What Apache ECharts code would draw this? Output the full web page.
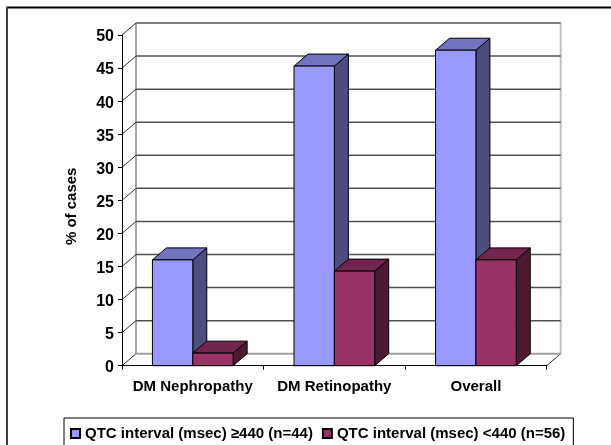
<!DOCTYPE html>
<html><head><meta charset="utf-8">
<style>html,body{margin:0;padding:0;background:#fff}#c{width:611px;height:445px}</style>
<script src="https://cdn.jsdelivr.net/npm/echarts@6/dist/echarts.min.js"></script>
</head><body><div id="c"></div>
<script>
var categories = ['DM Nephropathy', 'DM Retinopathy', 'Overall'];
var seriesA = [16, 45.3, 47.7];
var seriesB = [1.9, 14.3, 16];
var nameA = 'QTC interval (msec) \u2265440 (n=44)';
var nameB = 'QTC interval (msec) <440 (n=56)';
var yTicks = [0, 5, 10, 15, 20, 25, 30, 35, 40, 45, 50];
var FONT = '"Liberation Sans", Arial, sans-serif';
var DX = 14, DY = 12, BAR = 0.285;

function wall(params, api) {
  var v = api.value(0), cs = params.coordSys;
  var y = api.coord([0, v])[1], l = cs.x, r = cs.x + cs.width;
  var kids = [];
  if (v > 0) {
    kids.push({type: 'polyline', shape: {points: [[l, y], [l + DX, y - DY]]}, style: {fill: null, stroke: '#333', lineWidth: 1}});
  } else {
    kids.push({type: 'polyline', shape: {points: [[l, y], [l + DX, y - DY]]}, style: {fill: null, stroke: '#333', lineWidth: 1}});
    kids.push({type: 'polyline', shape: {points: [[r, y], [r + DX, y - DY]]}, style: {fill: null, stroke: '#333', lineWidth: 1}});
    kids.push({type: 'line', shape: {x1: l + DX, y1: y - DY, x2: l + DX, y2: cs.y - DY}, style: {stroke: '#a6a6a6', lineWidth: 2}});
    kids.push({type: 'line', shape: {x1: r + DX, y1: y - DY, x2: r + DX, y2: cs.y - DY}, style: {stroke: '#c0c0c0', lineWidth: 2}});
  }
  kids.push({type: 'line', shape: {x1: l + DX, y1: y - DY, x2: r + DX, y2: y - DY},
    style: {stroke: v === 50 ? '#808080' : (v === 0 ? '#a0a0a0' : '#505050'), lineWidth: v === 50 || v === 0 ? 2 : 1.5}});
  return {type: 'group', children: kids};
}

function bar3d(side, front, top, dark) {
  return function (params, api) {
    var cat = api.value(0), p = api.coord([cat, api.value(1)]), b = api.coord([cat, 0]);
    var w = api.size([1, 0])[0] * BAR;
    var x0 = side === 0 ? p[0] - w : p[0], x1 = x0 + w, yt = p[1], yb = b[1];
    var edge = {stroke: '#000', lineWidth: 1, lineJoin: 'round'};
    return {type: 'group', children: [
      {type: 'polygon', shape: {points: [[x1, yt], [x1 + DX, yt - DY], [x1 + DX, yb - DY], [x1, yb]]}, style: Object.assign({fill: dark}, edge)},
      {type: 'polygon', shape: {points: [[x0, yt], [x0 + DX, yt - DY], [x1 + DX, yt - DY], [x1, yt]]}, style: Object.assign({fill: top}, edge)},
      {type: 'rect', shape: {x: x0, y: yt, width: w, height: yb - yt}, style: Object.assign({fill: front}, edge)}
    ]};
  };
}

var chart = echarts.init(document.getElementById('c'), null, {renderer: 'canvas'});
chart.setOption({
  animation: false,
  backgroundColor: '#fff',
  textStyle: {fontFamily: FONT},
  grid: {left: 122, right: 64.3, top: 35, bottom: 79.3},
  xAxis: {
    type: 'category', data: categories,
    axisLine: {lineStyle: {color: '#000', width: 1}},
    axisTick: {show: true, length: 4, lineStyle: {color: '#000'}},
    axisLabel: {color: '#000', fontWeight: 'bold', fontSize: 15, margin: 14, fontFamily: FONT, interval: 0},
    z: 5
  },
  yAxis: {
    type: 'value', min: 0, max: 50, interval: 5,
    axisLine: {show: true, lineStyle: {color: '#000', width: 1}},
    axisTick: {show: true, length: 4, lineStyle: {color: '#000'}},
    axisLabel: {color: '#000', fontWeight: 'bold', fontSize: 16, margin: 8, fontFamily: FONT, verticalAlign: 'top', lineHeight: 4},
    splitLine: {show: false},
    name: '% of cases', nameLocation: 'middle', nameGap: 43, nameRotate: 90,
    nameTextStyle: {color: '#000', fontWeight: 'bold', fontSize: 15, fontFamily: FONT, padding: [0, 12, 0, 0]},
    z: 5
  },
  legend: {
    left: 64, top: 418, data: [nameA, nameB],
    backgroundColor: '#fff', borderColor: '#000', borderWidth: 1,
    padding: [8, 8, 10, 6], itemWidth: 9, itemHeight: 9, itemGap: 9,
    icon: 'rect',
    textStyle: {color: '#000', fontWeight: 'bold', fontSize: 15, fontFamily: FONT}
  },
  graphic: [
    {type: 'line', shape: {x1: 6.5, y1: 7.5, x2: 611, y2: 7.5}, style: {stroke: '#000', lineWidth: 2}},
    {type: 'line', shape: {x1: 7, y1: 7, x2: 7, y2: 445}, style: {stroke: '#404040', lineWidth: 2}}
  ],
  series: [
    {type: 'custom', name: 'wall', data: yTicks.map(function (v) { return [v]; }), encode: {y: 0}, renderItem: wall, clip: false, silent: true, z: 1},
    {type: 'custom', name: nameA, data: categories.map(function (c, i) { return [i, seriesA[i]]; }), encode: {x: 0, y: 1},
     itemStyle: {color: '#9999ff', borderColor: '#000', borderWidth: 1},
     renderItem: bar3d(0, '#9999ff', '#7373bf', '#4d4d80'), clip: false, z: 2},
    {type: 'custom', name: nameB, data: categories.map(function (c, i) { return [i, seriesB[i]]; }), encode: {x: 0, y: 1},
     itemStyle: {color: '#993366', borderColor: '#000', borderWidth: 1},
     renderItem: bar3d(1, '#993366', '#73264d', '#4d1933'), clip: false, z: 3}
  ]
});
</script></body></html>
